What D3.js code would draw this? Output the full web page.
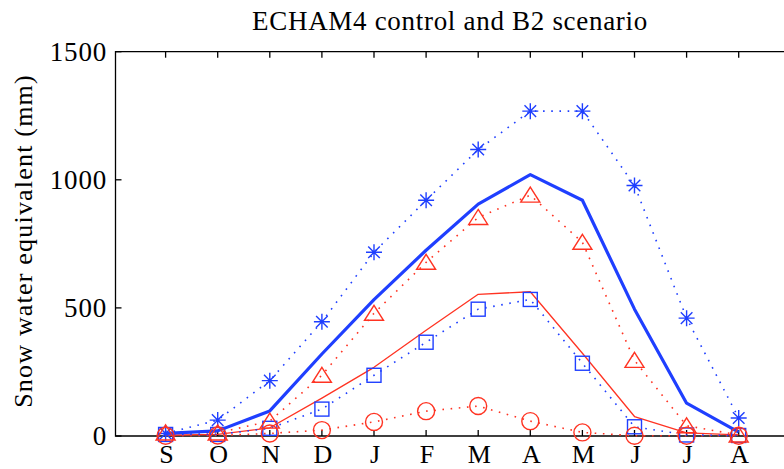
<!DOCTYPE html>
<html>
<head>
<meta charset="utf-8">
<script src="https://cdn.jsdelivr.net/npm/d3@7"></script>
<style>
  html, body { margin: 0; padding: 0; background: #fff; overflow: hidden; }
  #container { width: 784px; height: 469px; }
</style>
</head>
<body>
<div id="container"></div>
<script>
const months = ["S", "O", "N", "D", "J", "F", "M", "A", "M", "J", "J", "A"];
const yTicks = [0, 500, 1000, 1500];

// control (blue) and B2 scenario (red), mm
const ctrlMean = [10, 20, 98, 320, 532, 725, 905, 1020, 920, 495, 128, 15];
const ctrlMax  = [10, 62, 216, 446, 717, 920, 1118, 1268, 1268, 978, 460, 70];
const ctrlMin  = [6, 6, 30, 105, 237, 366, 495, 533, 284, 36, 4, 2];
const b2Mean   = [3, 6, 32, 148, 268, 413, 553, 563, 323, 76, 12, 4];
const b2Max    = [12, 12, 58, 237, 479, 678, 853, 940, 756, 295, 40, 4];
const b2Min    = [1, 2, 10, 23, 55, 97, 117, 58, 14, 1, 1, 1];

const width = 784, height = 469;
const blue = "#1f3fff", red = "#ff3322";
const serif = "'Liberation Serif', 'Times New Roman', Times, serif";

const svg = d3.select("#container")
    .append("svg")
    .attr("width", width)
    .attr("height", height)
    .attr("font-family", serif);

const x = d3.scaleLinear().domain([1, 12]).range([165.6, 738.7]);
const y = d3.scaleLinear().domain([0, 1500]).range([436, 51.7]);

const boxL = 115.5, boxR = 791, boxT = y(1500), boxB = y(0);

// title + y label
svg.append("text")
    .attr("x", 450).attr("y", 30)
    .attr("text-anchor", "middle")
    .attr("font-family", serif)
    .attr("font-size", 27)
    .attr("letter-spacing", 0.7)
    .text("ECHAM4 control and B2 scenario");

svg.append("text")
    .attr("transform", `translate(32,${241}) rotate(-90)`)
    .attr("text-anchor", "middle")
    .attr("font-family", serif)
    .attr("font-size", 26)
    .attr("letter-spacing", 1.2)
    .text("Snow water equivalent (mm)");

// axes box
const axisG = svg.append("g").attr("stroke", "#000").attr("stroke-width", 1.3).attr("fill", "none");
axisG.append("path").attr("d", `M${boxR},${boxT}H${boxL}V${boxB}H${boxR}`);

// ticks point inward on all sides
yTicks.forEach(v => {
    axisG.append("line").attr("x1", boxL).attr("x2", boxL + 6).attr("y1", y(v)).attr("y2", y(v));
    axisG.append("line").attr("x1", boxR - 6).attr("x2", boxR).attr("y1", y(v)).attr("y2", y(v));
});
months.forEach((m, i) => {
    axisG.append("line").attr("x1", x(i + 1)).attr("x2", x(i + 1)).attr("y1", boxB).attr("y2", boxB - 6);
    axisG.append("line").attr("x1", x(i + 1)).attr("x2", x(i + 1)).attr("y1", boxT).attr("y2", boxT + 6);
});

svg.append("g").selectAll("text")
    .data(yTicks)
    .join("text")
    .attr("x", 107)
    .attr("y", d => y(d) + 9)
    .attr("text-anchor", "end")
    .attr("font-family", serif)
    .attr("font-size", 27)
    .attr("letter-spacing", 0.8)
    .text(d => d);

svg.append("g").selectAll("text")
    .data(months)
    .join("text")
    .attr("x", (d, i) => x(i + 1) + 1)
    .attr("y", 463)
    .attr("text-anchor", "middle")
    .attr("font-family", serif)
    .attr("font-size", 26)
    .text(d => d);

const line = d3.line().x((d, i) => x(i + 1)).y(d => y(d));
const plotG = svg.append("g");

function drawLine(data, color, w, dotted) {
    plotG.append("path")
        .datum(data)
        .attr("d", line)
        .attr("fill", "none")
        .attr("stroke", color)
        .attr("stroke-width", w)
        .attr("stroke-linejoin", "round")
        .attr("stroke-dasharray", dotted ? "1.6,6.6" : null);
}

function drawMarkers(data, color, type) {
    const g = plotG.append("g").attr("fill", "none").attr("stroke", color).attr("stroke-width", 1.4);
    data.forEach((v, i) => {
        const cx = x(i + 1), cy = y(v);
        if (type === "star") {
            const r = 8, d = 5.8;
            g.append("path").attr("d",
                `M${cx - r},${cy}H${cx + r}M${cx},${cy - r}V${cy + r}` +
                `M${cx - d},${cy - d}L${cx + d},${cy + d}M${cx - d},${cy + d}L${cx + d},${cy - d}`);
        } else if (type === "square") {
            g.append("rect").attr("x", cx - 7).attr("y", cy - 7).attr("width", 14).attr("height", 14);
        } else if (type === "triangle") {
            g.append("path").attr("d", `M${cx},${cy - 8}L${cx + 9.5},${cy + 7}L${cx - 9.5},${cy + 7}Z`);
        } else if (type === "circle") {
            g.append("circle").attr("cx", cx).attr("cy", cy).attr("r", 8.5);
        }
    });
}

drawLine(b2Mean, red, 1.3, false);
drawLine(b2Max, red, 1.6, true);
drawLine(b2Min, red, 1.6, true);
drawLine(ctrlMax, blue, 1.6, true);
drawLine(ctrlMin, blue, 1.6, true);
drawLine(ctrlMean, blue, 3.2, false);

drawMarkers(ctrlMax, blue, "star");
drawMarkers(ctrlMin, blue, "square");
drawMarkers(b2Max, red, "triangle");
drawMarkers(b2Min, red, "circle");
</script>
</body>
</html>
